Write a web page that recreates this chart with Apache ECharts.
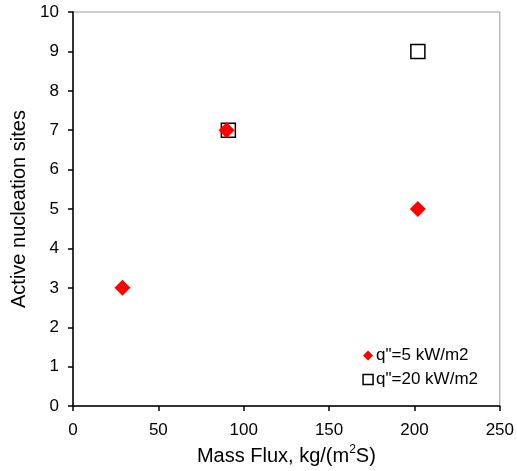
<!DOCTYPE html>
<html>
<head>
<meta charset="utf-8">
<script src="https://cdn.jsdelivr.net/npm/echarts@6/dist/echarts.min.js"></script>
<style>
  html, body { margin: 0; padding: 0; background: #fff; }
  #chart { width: 517px; height: 471px; }
</style>
</head>
<body>
<div id="chart"></div>
<script>
// Mass flux (kg/(m2 s)) vs. number of active nucleation sites
const seriesNames = ['q"=5 kW/m2', 'q"=20 kW/m2'];
const flux5 = [29, 90, 202];
const sites5 = [3, 7, 5];
const flux20 = [91, 202];
const sites20 = [7, 9];

const pairs = (xs, ys) => xs.map((x, i) => [x, ys[i]]);
const font = '"Liberation Sans", Arial, sans-serif';

const chart = echarts.init(document.getElementById('chart'));
chart.setOption({
  animation: false,
  backgroundColor: '#fff',
  textStyle: { fontFamily: font },
  grid: { left: 73, right: 13, top: 12, bottom: 63, show: true, borderColor: '#999', borderWidth: 1 },
  legend: {
    orient: 'vertical',
    right: 34,
    bottom: 78,
    itemWidth: 10,
    itemHeight: 10,
    itemGap: 7,
    textStyle: { fontSize: 17, color: '#000', fontFamily: font, padding: [0, 0, 0, -2] },
    data: [
      { name: seriesNames[0], icon: 'diamond', itemStyle: { color: '#ff0000' } },
      { name: seriesNames[1], icon: 'rect', itemStyle: { color: 'rgba(0,0,0,0)', borderColor: '#000', borderWidth: 1.5 } }
    ]
  },
  xAxis: {
    type: 'value', min: 0, max: 250, interval: 50,
    name: '{t|Mass Flux, kg/(m}{s|2}{t|S)}',
    nameLocation: 'middle', nameGap: 37,
    nameTextStyle: {
      rich: {
        t: { fontSize: 20, color: '#000', fontFamily: font, verticalAlign: 'bottom', lineHeight: 22 },
        s: { fontSize: 12, color: '#000', fontFamily: font, verticalAlign: 'top', lineHeight: 22, padding: [0, 0, 9, 0] }
      }
    },
    axisLine: { lineStyle: { color: '#000', width: 1.5 } },
    axisTick: { length: 5, lineStyle: { color: '#000', width: 1.5 } },
    axisLabel: { fontSize: 17, color: '#000', margin: 16 },
    splitLine: { show: false }
  },
  yAxis: {
    type: 'value', min: 0, max: 10, interval: 1,
    name: 'Active nucleation sites',
    nameLocation: 'middle', nameGap: 42,
    nameTextStyle: { fontSize: 20, color: '#000' },
    axisLine: { lineStyle: { color: '#000', width: 1.5 } },
    axisTick: { length: 5, lineStyle: { color: '#000', width: 1.5 } },
    axisLabel: { fontSize: 17, color: '#000', margin: 14 },
    splitLine: { show: false }
  },
  series: [
    {
      name: seriesNames[0], type: 'scatter', z: 3,
      symbol: 'diamond', symbolSize: 16,
      itemStyle: { color: '#ff0000', opacity: 1 },
      data: pairs(flux5, sites5)
    },
    {
      name: seriesNames[1], type: 'scatter', z: 2,
      symbol: 'rect', symbolSize: 14,
      itemStyle: { color: 'rgba(0,0,0,0)', borderColor: '#000', borderWidth: 1.5, opacity: 1 },
      data: pairs(flux20, sites20)
    }
  ]
});
</script>
</body>
</html>
